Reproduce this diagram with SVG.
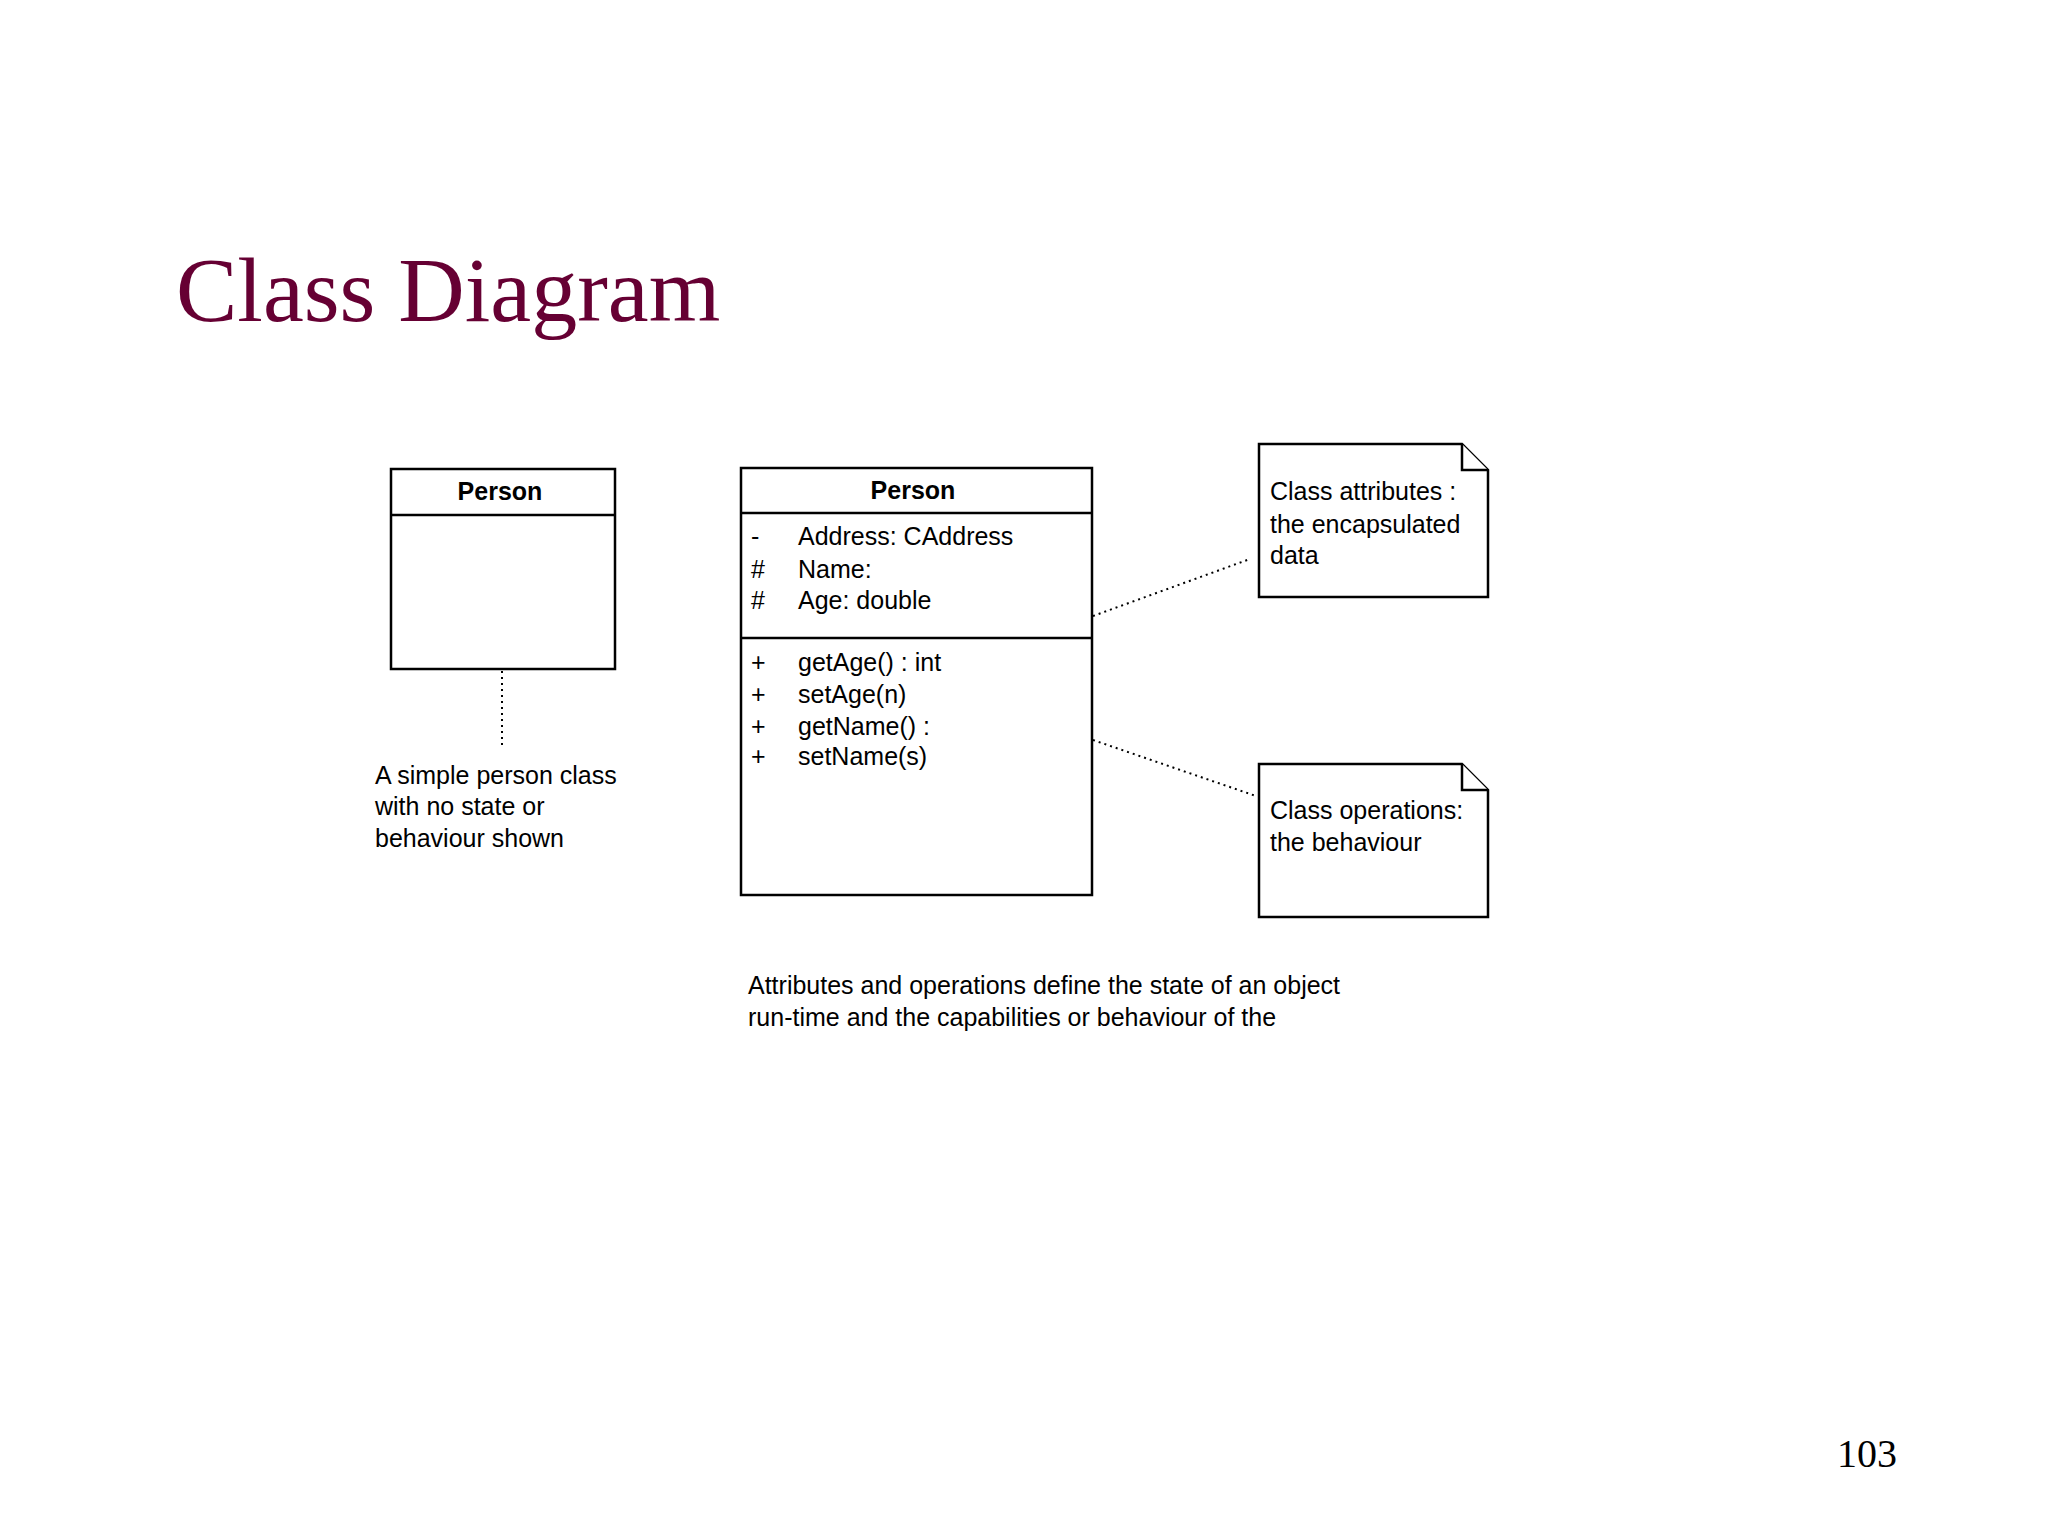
<svg xmlns="http://www.w3.org/2000/svg" width="2048" height="1536" viewBox="0 0 2048 1536">
<style>
.b{fill:#fff;stroke:#000;stroke-width:2.5}
.t{font-family:"Liberation Sans",Arial,sans-serif;font-size:25px;fill:#000}
.h{font-family:"Liberation Sans",Arial,sans-serif;font-size:25px;font-weight:bold;fill:#000}
.d{fill:none;stroke:#000;stroke-width:2;stroke-dasharray:2 4}
</style>
<rect width="2048" height="1536" fill="#fff"/>
<text x="176" y="321" font-family="Liberation Serif,Times New Roman,serif" font-size="92" fill="#660033">Class Diagram</text>
<g id="simple-person">
<rect class="b" x="391" y="469" width="224" height="200"/>
<line class="b" x1="391" y1="515" x2="615" y2="515"/>
<text class="h" x="500" y="500" text-anchor="middle">Person</text>
</g>
<g id="simple-label">
<text class="t" x="375" y="784">A simple person class</text>
<text class="t" x="375" y="815">with no state or</text>
<text class="t" x="375" y="847">behaviour shown</text>
</g>
<g id="person">
<rect class="b" x="741" y="468" width="351" height="427"/>
<line class="b" x1="741" y1="513" x2="1092" y2="513"/>
<line class="b" x1="741" y1="638" x2="1092" y2="638"/>
<text class="h" x="913" y="499" text-anchor="middle">Person</text>
<text class="t" x="751" y="545">-</text><text class="t" x="798" y="545">Address:  CAddress</text>
<text class="t" x="751" y="578">#</text><text class="t" x="798" y="578">Name:</text>
<text class="t" x="751" y="609">#</text><text class="t" x="798" y="609">Age:  double</text>
<text class="t" x="751" y="671">+</text><text class="t" x="798" y="671">getAge() : int</text>
<text class="t" x="751" y="703">+</text><text class="t" x="798" y="703">setAge(n)</text>
<text class="t" x="751" y="735">+</text><text class="t" x="798" y="735">getName() :</text>
<text class="t" x="751" y="765">+</text><text class="t" x="798" y="765">setName(s)</text>
</g>
<g id="note-attributes">
<path class="b" d="M1259,444 H1462 L1488,470 V597 H1259 Z"/>
<path class="b" d="M1462,444 V470 H1488" fill="none"/>
<text class="t" x="1270" y="500">Class attributes :</text>
<text class="t" x="1270" y="533">the encapsulated</text>
<text class="t" x="1270" y="564">data</text>
</g>
<g id="note-operations">
<path class="b" d="M1259,764 H1462 L1488,790 V917 H1259 Z"/>
<path class="b" d="M1462,764 V790 H1488" fill="none"/>
<text class="t" x="1270" y="819">Class operations:</text>
<text class="t" x="1270" y="851">the behaviour</text>
</g>
<g id="connectors">
<line class="d" x1="502" y1="671" x2="502" y2="747"/>
<line class="d" x1="1093" y1="616" x2="1250" y2="559"/>
<line class="d" x1="1093" y1="740" x2="1256" y2="796"/>
</g>
<g id="caption">
<text class="t" x="748" y="994">Attributes and operations define the state of an object</text>
<text class="t" x="748" y="1026">run-time and the capabilities or behaviour of the</text>
</g>
<text x="1837" y="1467" font-family="Liberation Serif,Times New Roman,serif" font-size="40" fill="#000">103</text>
</svg>
